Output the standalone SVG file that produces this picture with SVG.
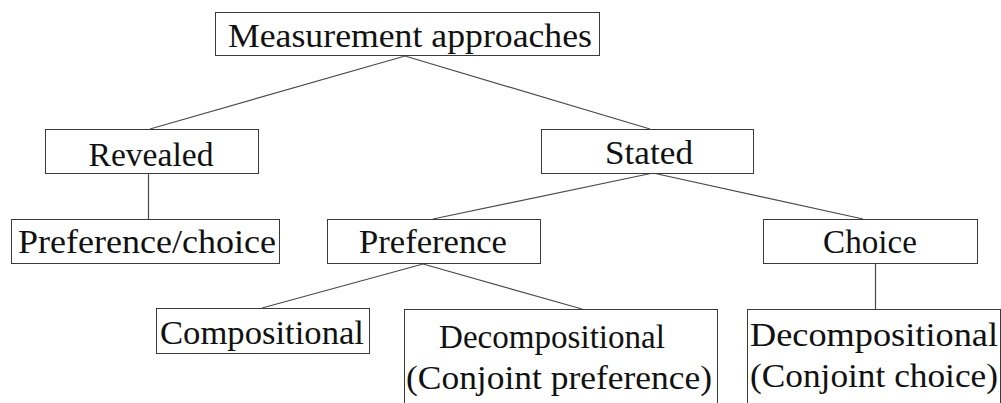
<svg xmlns="http://www.w3.org/2000/svg" width="1001" height="403" viewBox="0 0 1001 403">
  <style>
    .box { fill: #ffffff; stroke: #3a3a3a; stroke-width: 1; }
    .edge { stroke: #4a4a4a; stroke-width: 1.2; fill: none; }
    .label { font-family: "Liberation Serif", "DejaVu Serif", serif; font-size: 34px; fill: #111111; text-anchor: middle; }
  </style>
  <rect x="0" y="0" width="1001" height="403" fill="#ffffff"/>

  <!-- tree connectors: bottom centre of parent to top of child -->
  <g id="connectors">
    <line class="edge" x1="405" y1="56" x2="150" y2="129"/>
    <line class="edge" x1="405" y1="56" x2="650" y2="129"/>
    <line class="edge" x1="148.5" y1="173" x2="148.5" y2="219"/>
    <line class="edge" x1="653" y1="173" x2="433" y2="219"/>
    <line class="edge" x1="653" y1="173" x2="863" y2="219"/>
    <line class="edge" x1="423" y1="264" x2="262" y2="308"/>
    <line class="edge" x1="423" y1="264" x2="582" y2="309"/>
    <line class="edge" x1="875.5" y1="264" x2="875.5" y2="309"/>
  </g>

  <g id="measurement-approaches">
    <rect class="box" x="215.5" y="12.5" width="384" height="43"/>
    <text class="label" x="410" y="47" textLength="364" lengthAdjust="spacingAndGlyphs">Measurement approaches</text>
  </g>

  <g id="revealed">
    <rect class="box" x="45.5" y="129.5" width="213" height="44"/>
    <text class="label" x="151" y="166" textLength="125" lengthAdjust="spacingAndGlyphs">Revealed</text>
  </g>

  <g id="revealed-preference-choice">
    <rect class="box" x="11.5" y="219.5" width="268" height="44"/>
    <text class="label" x="147" y="253" textLength="258" lengthAdjust="spacingAndGlyphs">Preference/choice</text>
  </g>

  <g id="stated">
    <rect class="box" x="541.5" y="129.5" width="212" height="44"/>
    <text class="label" x="649" y="164" textLength="88" lengthAdjust="spacingAndGlyphs">Stated</text>
  </g>

  <g id="stated-preference">
    <rect class="box" x="327.5" y="219.5" width="213" height="44"/>
    <text class="label" x="433" y="253" textLength="148" lengthAdjust="spacingAndGlyphs">Preference</text>
  </g>

  <g id="stated-choice">
    <rect class="box" x="763.5" y="219.5" width="214" height="44"/>
    <text class="label" x="870" y="253" textLength="94" lengthAdjust="spacingAndGlyphs">Choice</text>
  </g>

  <g id="compositional">
    <rect class="box" x="156.5" y="308.5" width="213" height="45"/>
    <text class="label" x="262" y="344" textLength="204" lengthAdjust="spacingAndGlyphs">Compositional</text>
  </g>

  <g id="decompositional-preference">
    <rect class="box" x="404.5" y="309.5" width="313" height="120"/>
    <text class="label" x="552" y="348" textLength="226" lengthAdjust="spacingAndGlyphs">Decompositional</text>
    <text class="label" x="559" y="389" textLength="306" lengthAdjust="spacingAndGlyphs">(Conjoint preference)</text>
  </g>

  <g id="decompositional-choice">
    <rect class="box" x="747.5" y="309.5" width="253" height="120"/>
    <text class="label" x="874" y="346" textLength="248" lengthAdjust="spacingAndGlyphs">Decompositional</text>
    <text class="label" x="874" y="387" textLength="248" lengthAdjust="spacingAndGlyphs">(Conjoint choice)</text>
  </g>
</svg>
